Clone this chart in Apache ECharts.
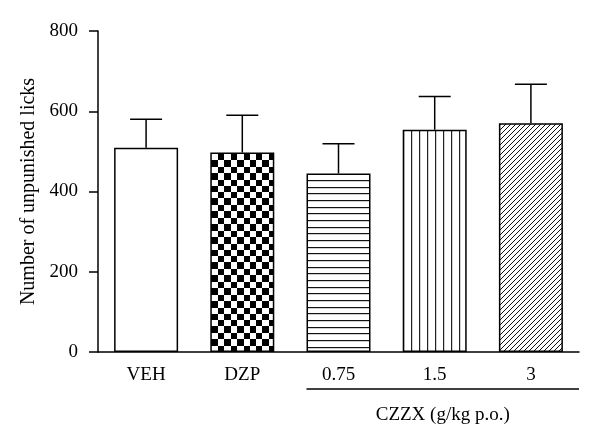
<!DOCTYPE html>
<html>
<head>
<meta charset="utf-8">
<script src="https://cdn.jsdelivr.net/npm/echarts@6/dist/echarts.min.js"></script>
<style>html,body{margin:0;padding:0;background:#fff}#c{width:600px;height:444px}</style>
</head>
<body>
<div id="c"></div>
<script>
const categories = ['VEH', 'DZP', '0.75', '1.5', '3'];
const means = [509, 497, 445, 554, 570];
const errors = [71, 93, 74, 83, 97];
const patterns = ['none', 'checker', 'hlines', 'vlines', 'diag'];
const yTicks = [0, 200, 400, 600, 800];
const yName = 'Number of unpunished licks';
const groupLabel = 'CZZX (g/kg p.o.)';
const groupStart = '0.75';

const FONT = '"Liberation Serif", "DejaVu Serif", serif';

function makePattern(type) {
  if (type === 'none') return '#fff';
  const c = document.createElement('canvas');
  let ctx;
  if (type === 'checker') {
    const sizes = [6, 7, 6, 7, 6, 7, 6, 7, 6, 6];
    c.width = 64; c.height = 64;
    ctx = c.getContext('2d');
    ctx.fillStyle = '#fff'; ctx.fillRect(0, 0, 64, 64);
    ctx.fillStyle = '#000';
    let y = 0;
    for (let i = 0; i < sizes.length; i++) {
      let x = 0;
      for (let j = 0; j < sizes.length; j++) {
        if ((i + j) % 2 === 0) ctx.fillRect(x, y, sizes[j], sizes[i]);
        x += sizes[j];
      }
      y += sizes[i];
    }
  } else if (type === 'hlines') {
    c.width = 8; c.height = 20;
    ctx = c.getContext('2d');
    ctx.fillStyle = '#fff'; ctx.fillRect(0, 0, 8, 20);
    ctx.fillStyle = '#111';
    [0, 7, 13].forEach(y => ctx.fillRect(0, y, 8, 1.2));
  } else if (type === 'vlines') {
    c.width = 8; c.height = 8;
    ctx = c.getContext('2d');
    ctx.fillStyle = '#fff'; ctx.fillRect(0, 0, 8, 8);
    ctx.fillStyle = '#222';
    ctx.fillRect(3, 0, 1.2, 8);
  } else if (type === 'diag') {
    const s = 5;
    c.width = s; c.height = s;
    ctx = c.getContext('2d');
    ctx.fillStyle = '#fff'; ctx.fillRect(0, 0, s, s);
    ctx.strokeStyle = '#111'; ctx.lineWidth = 1;
    ctx.beginPath();
    ctx.moveTo(-1, s + 1); ctx.lineTo(s + 1, -1);
    ctx.moveTo(-1, 1); ctx.lineTo(1, -1);
    ctx.moveTo(s - 1, s + 1); ctx.lineTo(s + 1, s - 1);
    ctx.stroke();
  }
  return { image: c, repeat: 'repeat' };
}

const barData = means.map((m, i) => ({
  value: m,
  itemStyle: { color: makePattern(patterns[i]), borderColor: '#000', borderWidth: 1.5 }
}));
const errData = means.map((m, i) => [i, m, errors[i]]);

const chart = echarts.init(document.getElementById('c'), null, { renderer: 'canvas' });
const option = {
  animation: false,
  backgroundColor: '#fff',
  grid: { left: 98, right: 21, top: 31, bottom: 92, containLabel: false },
  xAxis: {
    type: 'category',
    data: categories,
    axisLine: { lineStyle: { color: '#000', width: 1.5 } },
    axisTick: { alignWithLabel: true, length: 9, lineStyle: { color: '#000', width: 1.5 } },
    axisLabel: { color: '#000', fontSize: 19, fontFamily: FONT, margin: 14 }
  },
  yAxis: {
    type: 'value',
    min: yTicks[0],
    max: yTicks[yTicks.length - 1],
    interval: yTicks[1] - yTicks[0],
    name: yName,
    nameLocation: 'middle',
    nameRotate: 90,
    nameGap: 59,
    nameTextStyle: { color: '#000', fontSize: 20, fontFamily: FONT },
    axisLine: { show: true, lineStyle: { color: '#000', width: 1.5 } },
    axisTick: { show: true, length: 9, lineStyle: { color: '#000', width: 1.5 } },
    axisLabel: { color: '#000', fontSize: 19, fontFamily: FONT, margin: 20 },
    splitLine: { show: false }
  },
  series: [
    {
      type: 'bar',
      data: barData,
      barWidth: 64,
      z: 2
    },
    {
      type: 'custom',
      data: errData,
      encode: { x: 0, y: 1 },
      z: 3,
      renderItem: function (params, api) {
        const idx = api.value(0);
        const m = api.value(1);
        const e = api.value(2);
        const base = api.coord([idx, m]);
        const top = api.coord([idx, m + e]);
        const half = api.size([1, 0])[0] * 0.665 / 4;
        const style = { stroke: '#000', lineWidth: 1.5 };
        return {
          type: 'group',
          children: [
            { type: 'line', shape: { x1: base[0], y1: base[1], x2: top[0], y2: top[1] }, style: style },
            { type: 'line', shape: { x1: top[0] - half, y1: top[1], x2: top[0] + half, y2: top[1] }, style: style }
          ]
        };
      }
    }
  ]
};
chart.setOption(option);

// Group bracket under the CZZX doses
const startIdx = categories.indexOf(groupStart);
const startX = chart.convertToPixel({ xAxisIndex: 0 }, startIdx) - 32;
const endX = chart.convertToPixel({ xAxisIndex: 0 }, categories.length - 1) +
  (chart.convertToPixel({ xAxisIndex: 0 }, 1) - chart.convertToPixel({ xAxisIndex: 0 }, 0)) / 2;
const axisY = chart.convertToPixel({ yAxisIndex: 0 }, 0);
chart.setOption({
  graphic: [
    { type: 'line', shape: { x1: startX, y1: axisY + 37, x2: endX, y2: axisY + 37 }, style: { stroke: '#000', lineWidth: 1.3 } },
    { type: 'text', x: (startX + endX) / 2, y: axisY + 63.5,
      style: { text: groupLabel, fill: '#000', font: '19px ' + FONT, align: 'center', verticalAlign: 'middle' } }
  ]
});
</script>
</body>
</html>
